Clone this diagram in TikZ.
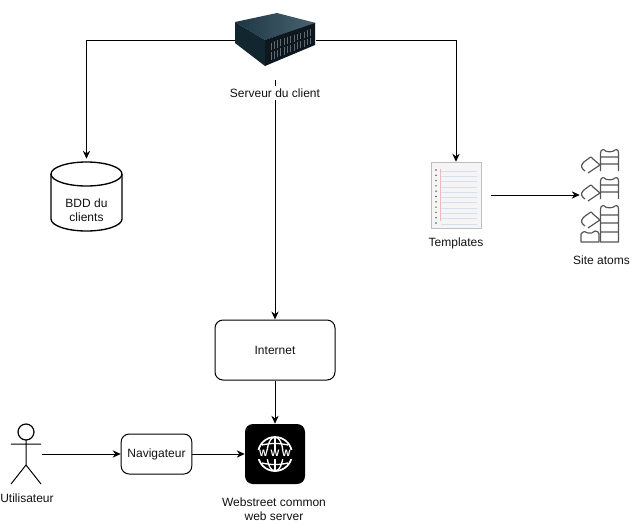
\documentclass[tikz,border=0pt]{standalone}
\usepackage{fontspec}
\setmainfont{Liberation Sans}
\usetikzlibrary{arrows.meta}
\definecolor{textgrey}{HTML}{111111}
\definecolor{atomgrey}{HTML}{555555}
\definecolor{sheetline}{HTML}{D5E0EE}
\definecolor{sheetred}{HTML}{F4B6B6}
\definecolor{servertopa}{HTML}{1C3644}
\definecolor{servertopb}{HTML}{4A6472}
\definecolor{serverside}{HTML}{12262F}
\definecolor{serverfront}{HTML}{0D171D}
\definecolor{serverbay}{HTML}{5E6B73}
\tikzset{
    label text/.style={font=\fontsize{9}{10.5}\selectfont, text=textgrey, align=center, inner sep=1pt},
    flow/.style={-{Stealth[length=6pt,width=5.5pt]}, line width=0.75pt},
    roundbox/.style={draw, line width=0.75pt, rounded corners=6pt, label text, minimum height=30pt},
    icon box/.style={inner sep=0pt, minimum width=#1},
    atom/.style={draw=atomgrey, line width=0.9pt, line join=round}
}
\newcommand{\atomtop}[2]{% wavy brick top at x=#1, y=#2
    (#1,#2+4) .. controls (#1,#2) and (#1+4,#2) .. (#1+5,#2+2)
    .. controls (#1+7,#2+3) and (#1+11,#2+3) .. (#1+13,#2+2)
    .. controls (#1+15,#2) and (#1+18,#2) .. (#1+18,#2+4)}
\newcommand{\atomlean}[2]{% tilted brick ending at x=#1, y=#2
    (#1,#2) -- (#1-7,#2-6) .. controls (#1-9,#2-9) and (#1-10,#2-8) .. (#1-12,#2-6)
    .. controls (#1-14,#2-4) and (#1-16,#2-4) .. (#1-17,#2-2)
    .. controls (#1-20,#2+1) and (#1-18,#2+4) .. (#1-15,#2+6)
    (#1,#2) -- (#1-12,#2+8)}
\begin{document}
\begin{tikzpicture}[x=0.75pt, y=-0.75pt]
    \useasboundingbox (0,0) rectangle (638,525);

    \shade[left color=servertopa, right color=servertopb] (235,22) -- (277,13) -- (316,23) -- (265,40) -- cycle;
    \fill[serverside] (235,22) -- (265,40) -- (265,66) -- (235,43) -- cycle;
    \fill[serverfront] (265,40) -- (315,23) -- (315,45) -- (265,66) -- cycle;
    \foreach \x in {0,...,12} {
        \draw[serverbay, line width=0.7pt] (271+3.3*\x,42.5-1.1*\x) -- (271+3.3*\x,50-1.2*\x);
        \draw[serverbay, line width=0.7pt] (271+3.3*\x,52-1.2*\x) -- (271+3.3*\x,60-1.35*\x);
    }
    \node[icon box=60.75pt, minimum height=39pt] (server) at (275.5,40) {};
    \node[label text, fill=white, inner sep=2pt] (serverlabel) at (275,93) {Serveur du client};
    \coordinate (servertail) at (275,80);

    \draw[line width=1pt, fill=white] (51,174) arc[start angle=180, end angle=360, x radius=35.5, y radius=12]
        -- (122,219) arc[start angle=0, end angle=180, x radius=35.5, y radius=12] -- cycle;
    \draw[line width=1pt] (51,174) arc[start angle=180, end angle=0, x radius=35.5, y radius=12];
    \node[inner sep=0pt, minimum width=53.25pt, minimum height=54pt] (bdd) at (86.5,195) {};
    \node[label text] (bddlabel) at (86.5,210) {BDD du\\clients};

    \fill[black!4] (431,162) rectangle (481,228);
    \draw[black!25, line width=0.5pt] (431,162) rectangle (481,228);
    \foreach \y in {0,...,10} {
        \draw[sheetline, line width=0.5pt] (441,171+5.3*\y) -- (477,171+5.3*\y);
        \fill[black!70] (436,170+5.3*\y) circle (0.8);
    }
    \draw[sheetred, line width=0.8pt] (440.5,169) -- (440.5,221);
    \node[icon box=52.5pt, minimum height=49.5pt] (sheet) at (456,195) {};
    \node[label text] (templates) at (456,243) {Templates};

    \foreach \y in {149,177} {
        \draw[atom] \atomtop{600.5}{\y} -- (618.5,\y+22) (600.5,\y+4) -- (600.5,\y+22)
            (600.5,\y+8) -- (618.5,\y+8) (600.5,\y+15) -- (618.5,\y+15);
        \draw[atom] \atomlean{600}{\y+16};
    }
    \draw[atom] \atomtop{600.5}{205} -- (618.5,242) -- (600.5,242) -- cycle
        (600.5,215) -- (618.5,215) (600.5,223) -- (618.5,223) (600.5,232) -- (618.5,232);
    \draw[atom] \atomlean{600}{220};
    \draw[atom] (599,242) -- (581,242) -- (581,234) .. controls (583,231) and (586,231) .. (588,233)
        .. controls (590,234) and (593,233) .. (595,231) .. controls (597,231) and (599,232) .. (599,234) -- cycle;
    \node[icon box=30pt, minimum height=72pt] (atoms) at (600,195) {};
    \node[label text] (siteatoms) at (601.5,260) {Site atoms};

    \node[roundbox, minimum width=90pt, minimum height=45pt] (internet) at (275,350) {Internet};
    \node[roundbox, minimum width=53pt] (browser) at (156.5,454) {Navigateur};

    \node[fill=black, rounded corners=6pt, minimum width=45pt, minimum height=45pt, inner sep=0pt] (web) at (275,454) {};
    \draw[white, line width=1.3pt] (web.center) circle (17);
    \draw[white, line width=1pt] (web.center) ellipse (8 and 17);
    \draw[white, line width=1pt] (275,437) -- (275,471);
    \draw[white, line width=1pt] (262,445) to[bend left=12] (288,445);
    \draw[white, line width=1pt] (262,463) to[bend right=12] (288,463);
    \fill[black] (256,449.5) rectangle (294,458.5);
    \node[inner sep=0pt, text=white, font=\fontsize{7}{7}\bfseries\selectfont] (www) at (275,453.5) {W W W};
    \node[label text] (weblabel) at (274,509) {Webstreet common\\web server};

    \draw[line width=0.9pt] (26,432) circle (8);
    \draw[line width=0.75pt] (26,440) -- (26,465) (11,444) -- (41,444) (11,484) -- (26,465) -- (41,484);
    \node[icon box=22.5pt, minimum height=45pt] (user) at (27,454) {};
    \node[label text] (userlabel) at (27,498) {Utilisateur};

    \draw[flow] (server.west) -| (bdd.north);
    \draw[flow] (server.east) -| (sheet.north);
    \draw[line width=0.75pt] (servertail) -- (serverlabel.north);
    \draw[flow] (serverlabel.south) -- (internet.north);
    \draw[flow] (sheet.east) -- (atoms.west);
    \draw[flow] (internet.south) -- (web.north);
    \draw[flow] (user.east) -- (browser.west);
    \draw[flow] (browser.east) -- (web.west);
\end{tikzpicture}
\end{document}
